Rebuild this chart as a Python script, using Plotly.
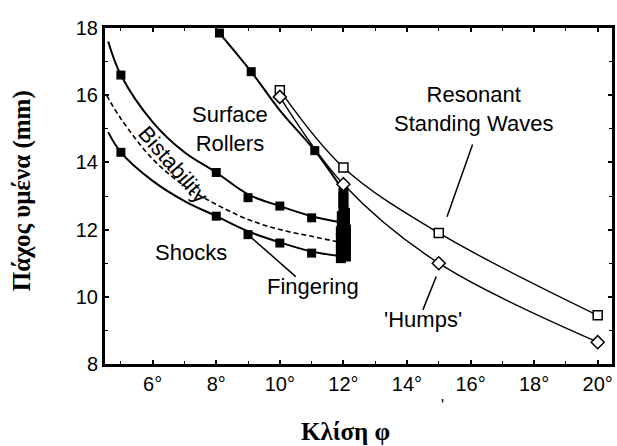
import plotly.graph_objects as go

# ---------------- data ----------------
# Shocks / lower filled-square boundary
shock_line_x = [4.6, 5, 6, 7, 8, 9, 10, 11, 12]
shock_line_y = [14.9, 14.3, 13.45, 12.85, 12.4, 11.95, 11.62, 11.35, 11.2]
shock_pts_x = [5, 8, 9, 10, 11]
shock_pts_y = [14.3, 12.4, 11.85, 11.6, 11.3]

# Surface rollers lower boundary (middle filled-square curve)
roll_line_x = [4.6, 5, 6, 7, 8, 9, 10, 11, 12]
roll_line_y = [17.6, 16.6, 15.2, 14.3, 13.7, 13.05, 12.7, 12.4, 12.2]
roll_pts_x = [5, 8, 9, 10, 11]
roll_pts_y = [16.6, 13.7, 12.95, 12.7, 12.35]

# Bistability boundary (dashed)
bist_x = [4.55, 5, 6, 7, 8, 9, 10, 11, 12]
bist_y = [16.0, 15.3, 14.1, 13.3, 12.75, 12.3, 12.0, 11.8, 11.6]

# Upper steep filled-square curve
steep_line_x = [8.1, 9.1, 10.0, 11.1, 12.0]
steep_line_y = [17.85, 16.7, 15.55, 14.35, 13.15]
steep_pts_x = [8.1, 9.1, 11.1]
steep_pts_y = [17.85, 16.7, 14.35]

# Dense cluster of filled squares at 12 degrees
cluster_x = [11.92, 12.08, 11.92, 12.08, 11.92, 12.08, 11.92, 12.08, 11.92, 12.08,
             11.95, 12.05, 11.95, 12.05, 12.0, 12.0, 12.0, 12.0]
cluster_y = [11.15, 11.2, 11.35, 11.4, 11.55, 11.6, 11.75, 11.8, 11.95, 12.0,
             12.15, 12.25, 12.4, 12.5, 12.65, 12.8, 12.95, 13.1]

# Resonant standing waves (open squares)
rsw_x = [10, 12, 15, 20]
rsw_y = [16.15, 13.85, 11.9, 9.45]

# Humps (open diamonds)
hump_x = [10, 12, 15, 20]
hump_y = [15.95, 13.35, 11.0, 8.65]

x_tick_vals = [6, 8, 10, 12, 14, 16, 18, 20]
x_tick_text = ["6°", "8°", "10°", "12°", "14°", "16°", "18°", "20°"]
y_tick_vals = [8, 10, 12, 14, 16, 18]
y_tick_text = ["8", "10", "12", "14", "16", "18"]

x_title = "Κλίση φ"
y_title = "Πάχος υμένα (mm)"

# ---------------- figure ----------------
fig = go.Figure()
BLK = "black"

def line(x, y, width=2.0, dash="solid"):
    fig.add_trace(go.Scatter(x=x, y=y, mode="lines",
                             line=dict(color=BLK, width=width, dash=dash, shape="spline"),
                             hoverinfo="skip", showlegend=False))

def pts(x, y, symbol="square", size=9, fill=BLK, lw=0):
    fig.add_trace(go.Scatter(x=x, y=y, mode="markers",
                             marker=dict(symbol=symbol, size=size, color=fill,
                                         line=dict(color=BLK, width=lw)),
                             hoverinfo="skip", showlegend=False, cliponaxis=True))

line(shock_line_x, shock_line_y, 2.0)
line(roll_line_x, roll_line_y, 2.0)
line(bist_x, bist_y, 1.6, "5px,3px")
line(steep_line_x, steep_line_y, 2.0)
line(rsw_x, rsw_y, 1.4)
line(hump_x, hump_y, 1.4)

pts(shock_pts_x, shock_pts_y)
pts(roll_pts_x, roll_pts_y)
pts(steep_pts_x, steep_pts_y)
pts(cluster_x, cluster_y, size=10)
pts(rsw_x, rsw_y, "square", 9, "white", 1.5)
pts(hump_x, hump_y, "diamond", 10, "white", 1.5)

TF = dict(family="Liberation Sans, Arial, sans-serif", size=22, color=BLK)

def label(text, x, y, angle=0):
    fig.add_annotation(x=x, y=y, xref="x", yref="y", text=text, showarrow=False,
                       font=TF, textangle=angle, align="center")

label("Surface<br>Rollers", 8.43, 15.0)
label("Bistability", 6.65, 13.95, 49)
label("Shocks", 7.2, 11.33)
label("Fingering", 11.04, 10.3)
label("Resonant<br>Standing Waves", 16.08, 15.6)
label("'Humps'", 14.5, 9.31)

def leader(x0, y0, x1, y1):
    fig.add_annotation(x=x1, y=y1, ax=x0, ay=y0, xref="x", yref="y", axref="x", ayref="y",
                       text="", showarrow=True, arrowhead=0, arrowwidth=1.5, arrowcolor=BLK,
                       standoff=0, startstandoff=0)

leader(9.0, 11.85, 10.5, 10.6)
leader(16.08, 14.58, 15.26, 12.38)
leader(14.94, 10.65, 14.5, 9.61)

SERIF = dict(family="Liberation Serif, Times New Roman, serif", size=25, color=BLK)
fig.add_annotation(x=0.474, y=-0.2, xref="paper", yref="paper", text="<b>" + x_title + "</b>",
                   showarrow=False, font=SERIF, yanchor="middle")
fig.add_annotation(x=-0.163, y=0.515, xref="paper", yref="paper", text="<b>" + y_title + "</b>",
                   showarrow=False, font=SERIF, textangle=-90, xanchor="center")
fig.add_annotation(x=0.673, y=-0.155, xref="paper", yref="paper", text="'",
                   showarrow=False, font=dict(family="Liberation Sans", size=16, color=BLK))

axis_common = dict(showgrid=False, zeroline=False, showline=True, linecolor=BLK, linewidth=3,
                   mirror="ticks", ticks="inside", ticklen=4, tickwidth=1.5, tickcolor=BLK,
                   automargin=False,
                   tickfont=dict(family="Liberation Sans, Arial, sans-serif", size=20, color=BLK))

fig.update_xaxes(range=[4.5, 20.45], tickvals=x_tick_vals, ticktext=x_tick_text,
                 minor=dict(ticks="inside", dtick=1, tick0=0, ticklen=3, tickwidth=1.2, tickcolor=BLK),
                 **axis_common)
fig.update_yaxes(range=[8, 18], tickvals=y_tick_vals, ticktext=y_tick_text,
                 minor=dict(ticks="inside", dtick=1, tick0=0, ticklen=3, tickwidth=1.2, tickcolor=BLK),
                 **axis_common)

fig.update_layout(width=617, height=446, margin=dict(l=105, r=5, t=28, b=82, autoexpand=False),
                  plot_bgcolor="white", paper_bgcolor="white", showlegend=False)

fig.write_html("out.html", config={"displayModeBar": False},
               post_script="document.body.style.margin='0px';document.body.style.overflow='hidden';")
